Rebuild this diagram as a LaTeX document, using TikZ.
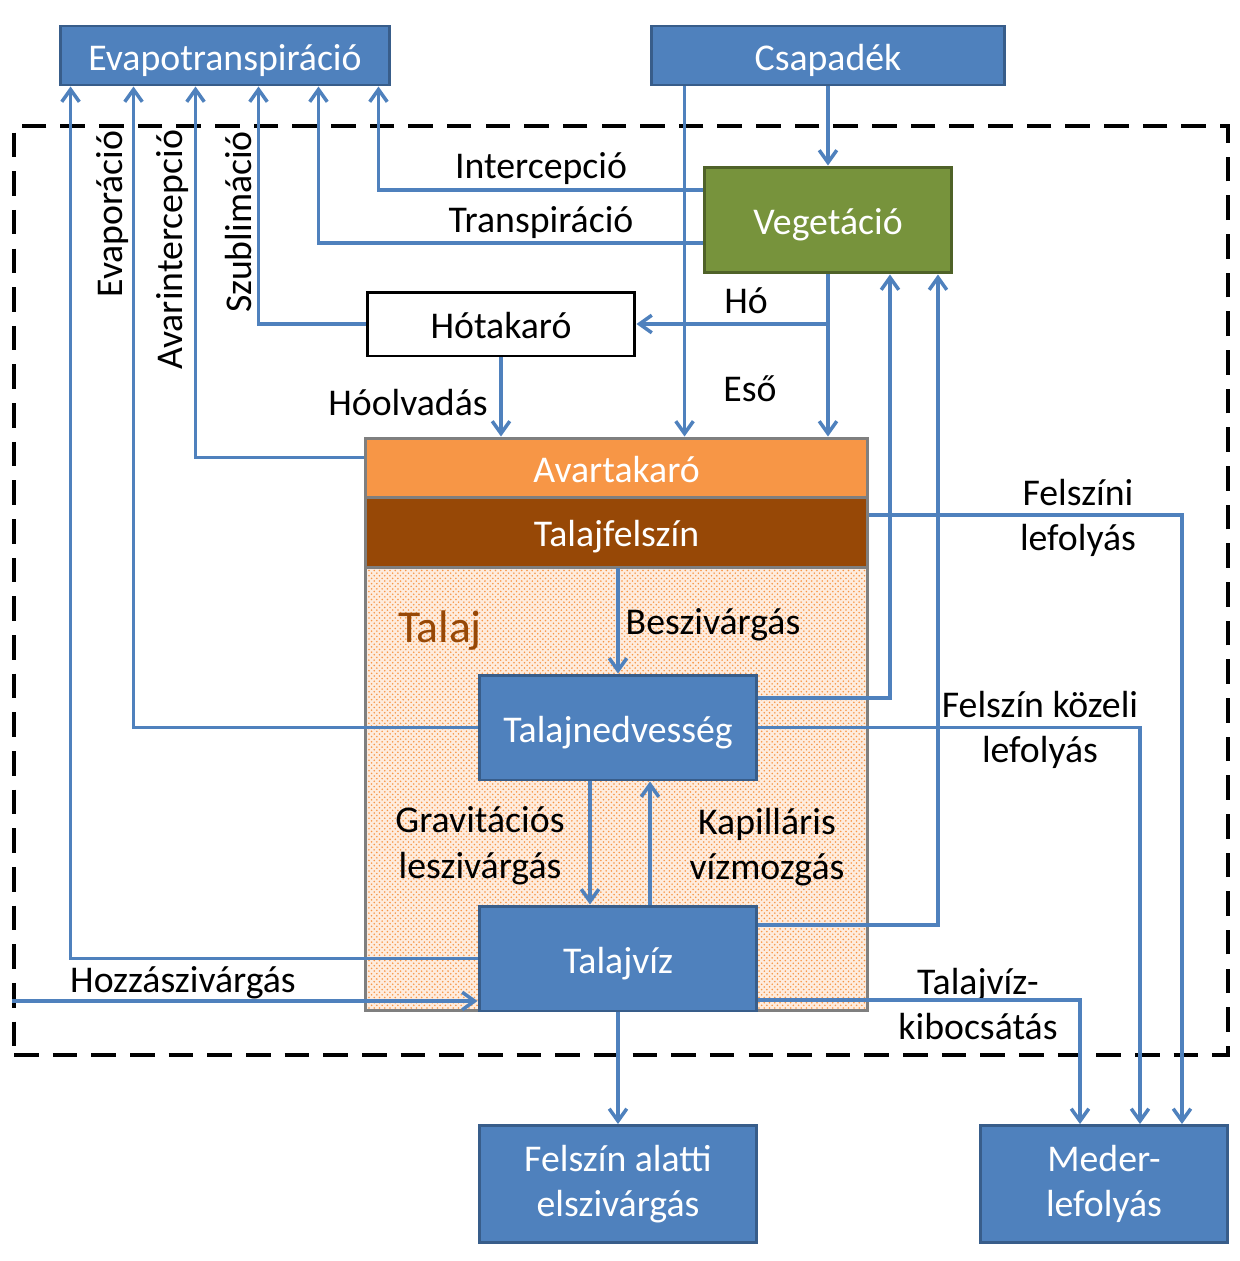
\documentclass[tikz,border=0pt]{standalone}
\usepackage{fontspec}
\setmainfont{Carlito}
\usetikzlibrary{positioning, calc, arrows.meta, patterns}
\definecolor{boxblue}{HTML}{4F81BD}
\definecolor{boxedge}{HTML}{385D8A}
\definecolor{veggreen}{HTML}{77933C}
\definecolor{vegedge}{HTML}{4F6228}
\definecolor{avar}{HTML}{F79646}
\definecolor{felsz}{HTML}{974806}
\definecolor{soilgray}{HTML}{7F7F7F}
\begin{document}
\begin{tikzpicture}[x=0.02cm, y=-0.02cm,
    font=\fontsize{21.5}{26}\selectfont,
    flow/.style={draw=boxblue, line width=2pt, -{Straight Barb[length=7pt,width=10pt]}},
    bluebox/.style={draw=boxedge, fill=boxblue, line width=1.7pt, text=white, align=center, inner sep=0pt},
    oneline/.style={text height=17pt, text depth=0pt},
    layer/.style={draw=soilgray, line width=1.7pt, text=white, minimum width=10.06cm, inner sep=0pt, oneline},
    lbl/.style={align=center}]
    \useasboundingbox (0,0) rectangle (1240,1261);
    \node[draw, line width=2.3pt, dash pattern=on 14pt off 8pt, minimum width=24.28cm, minimum height=18.58cm, inner sep=0pt] (sys) at (621,590.5) {};
    % soil column
    \node[layer, preaction={fill=avar!18}, pattern=crosshatch dots, pattern color=avar, minimum height=8.88cm] (talaj) at (616.5,789) {};
    \node[layer, fill=avar, minimum height=1.18cm] (av) at (616.5,467.5) {Avartakaró};
    \node[layer, fill=felsz, minimum height=1.4cm] (tf) at (616.5,532) {Talajfelszín};
    \node[text=felsz, font=\fontsize{26}{30}\selectfont] (tl) at (440,631) {Talaj};
    % boxes
    \node[bluebox, oneline, minimum width=6.6cm, minimum height=1.18cm] (et) at (225,55.5) {Evapotranspiráció};
    \node[bluebox, oneline, minimum width=7.08cm, minimum height=1.18cm] (cs) at (828,55.5) {Csapadék};
    \node[bluebox, oneline, draw=vegedge, fill=veggreen, minimum width=4.96cm, minimum height=2.12cm] (veg) at (828,220) {Vegetáció};
    \node[draw, oneline, line width=1.7pt, fill=white, minimum width=5.36cm, minimum height=1.28cm, inner sep=0pt] (hk) at (501,324) {Hótakaró};
    \node[bluebox, oneline, minimum width=5.56cm, minimum height=2.1cm] (tn) at (618,727.5) {Talajnedvesség};
    \node[bluebox, oneline, minimum width=5.56cm, minimum height=2.1cm] (tv) at (618,958.5) {Talajvíz};
    \node[bluebox, minimum width=5.56cm, minimum height=2.34cm] (fa) at (618,1184) {Felszín alatti\\elszivárgás};
    \node[bluebox, minimum width=4.96cm, minimum height=2.34cm] (md) at (1104,1184) {Meder-\\lefolyás};
    % labels
    \node[lbl] (l1) at (541,169) {Intercepció};
    \node[lbl] (l2) at (541,223) {Transpiráció};
    \node[lbl, rotate=90] (l3) at (113,214) {Evaporáció};
    \node[lbl, rotate=90] (l4) at (173,250) {Avarintercepció};
    \node[lbl, rotate=90] (l5) at (239,222) {Szublimáció};
    \node[lbl] (l6) at (746,301) {Hó};
    \node[lbl] (l7) at (750,389) {Eső};
    \node[lbl] (l8) at (408,403) {Hóolvadás};
    \node[lbl] (l9) at (1078,518) {Felszíni\\lefolyás};
    \node[lbl] (l10) at (713,625) {Beszivárgás};
    \node[lbl] (l11) at (1040,730) {Felszín közeli\\lefolyás};
    \node[lbl] (l12) at (480,846) {Gravitációs\\leszivárgás};
    \node[lbl] (l13) at (767,847) {Kapilláris\\vízmozgás};
    \node[lbl] (l14) at (183,983) {Hozzászivárgás};
    \node[lbl] (l15) at (978,1004) {Talajvíz-\\kibocsátás};
    % flows to evapotranspiration
    \coordinate (avl) at ([yshift=0.2cm]av.west);
    \coordinate (vgt) at ([yshift=-0.46cm]veg.west);
    \coordinate (vgi) at ([yshift=0.6cm]veg.west);
    \foreach \src/\dx in {tv.west/0.24, tn.west/1.5, avl/2.74, hk.west/4, vgt/5.2, vgi/6.4}
        \draw[flow] (\src) -| ([xshift=\dx cm]et.south west);
    % precipitation
    \draw[flow] ([xshift=0.7cm]cs.south west) -- ([xshift=0.7cm]cs.south west |- av.north);
    \draw[flow] (cs.south) -- (veg.north);
    \draw[flow] (veg.south) -- (veg.south |- av.north);
    \draw[flow] (veg.south |- hk.east) -- (hk.east);
    \draw[flow] (hk.south) -- (hk.south |- av.north);
    % soil water
    \coordinate (tvin) at ([yshift=-0.85cm]tv.west);
    \draw[flow] (tn.north |- tf.south) -- (tn.north);
    \draw[flow] ([xshift=-0.56cm]tn.south) -- ([xshift=-0.56cm]tn.south |- tv.north);
    \draw[flow] ([xshift=0.64cm]tv.north) -- ([xshift=0.64cm]tv.north |- tn.south);
    \draw[flow] (tv.south) -- (fa.north);
    \draw[flow] (sys.west |- tvin) -- (tvin);
    \draw[flow] ([yshift=0.59cm]tn.east) -| ([xshift=1.24cm]veg.south);
    \draw[flow] ([yshift=0.67cm]tv.east) -| ([xshift=2.2cm]veg.south);
    % runoff
    \draw[flow] ([yshift=0.34cm]tf.east) -| ([xshift=1.56cm]md.north);
    \draw[flow] (tn.east) -| ([xshift=0.72cm]md.north);
    \draw[flow] ([yshift=-0.83cm]tv.east) -| ([xshift=-0.48cm]md.north);
\end{tikzpicture}
\end{document}
